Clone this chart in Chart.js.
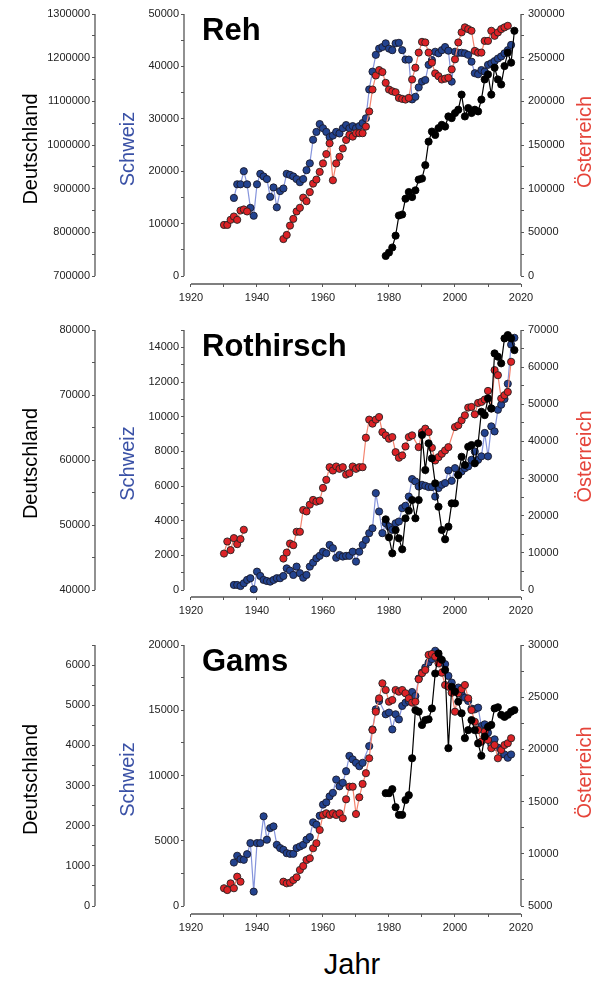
<!DOCTYPE html>
<html>
<head>
<meta charset="utf-8">
<script src="https://cdn.jsdelivr.net/npm/chart.js@4.4.1/dist/chart.umd.min.js"></script>
<style>
  body { margin: 0; background: #fff; width: 597px; height: 984px; position: relative; overflow: hidden; font-family: "Liberation Sans", Arial, sans-serif; }
  .panel { position: absolute; left: 0; width: 597px; }
  #jahr { position: absolute; left: 0; width: 704px; top: 948px; text-align: center; font-size: 29px; color: #000; }
</style>
</head>
<body>
<div class="panel" style="top:0"><canvas id="c1" width="597" height="310"></canvas></div>
<div class="panel" style="top:316px"><canvas id="c2" width="597" height="307"></canvas></div>
<div class="panel" style="top:631px"><canvas id="c3" width="597" height="309"></canvas></div>
<div id="jahr">Jahr</div>
<script>
// ---- data: [year, value] ----
const yearTicks = [1920, 1940, 1960, 1980, 2000, 2020];

// Reh
const rehDETicks = [700000, 800000, 900000, 1000000, 1100000, 1200000, 1300000];
const rehCHTicks = [0, 10000, 20000, 30000, 40000, 50000];
const rehATTicks = [0, 50000, 100000, 150000, 200000, 250000, 300000];
const rehCH = [[1933,14900],[1934,17500],[1935,17500],[1936,20000],[1937,17500],[1938,13000],[1939,11500],[1940,17500],[1941,19500],[1942,19000],[1943,18500],[1944,15100],[1945,16900],[1946,13100],[1947,16200],[1948,16700],[1949,19500],[1950,19300],[1951,19000],[1952,18500],[1953,17900],[1954,18500],[1955,20200],[1956,21500],[1957,26000],[1958,27500],[1959,29000],[1960,28200],[1961,27500],[1962,26500],[1963,26800],[1964,27500],[1965,27200],[1966,28200],[1967,28800],[1968,28200],[1969,28600],[1970,28200],[1971,28600],[1972,29200],[1973,30100],[1974,35600],[1975,39000],[1976,42200],[1977,43400],[1978,43700],[1979,44400],[1980,43400],[1981,43100],[1982,44400],[1983,44500],[1984,43100],[1985,41300],[1986,41300],[1987,33700],[1988,34200],[1989,36000],[1990,37100],[1991,37400],[1992,40300],[1993,41200],[1994,42800],[1995,42500],[1996,43100],[1997,43700],[1998,43000],[1999,37100],[2000,42800],[2001,42600],[2002,42600],[2003,42500],[2004,42200],[2005,40900],[2006,38700],[2007,38500],[2008,39300],[2009,39000],[2010,40300],[2011,40600],[2012,41000],[2013,41500],[2014,41900],[2015,42500],[2016,43100],[2017,44100]];
const rehAT = [[1930,58500],[1931,58500],[1932,64300],[1933,68100],[1934,64300],[1935,75000],[1936,76200],[1937,73900],[1942,null],[1948,42300],[1949,47000],[1950,57700],[1951,65400],[1952,73900],[1953,78100],[1954,89700],[1955,85700],[1956,96100],[1957,105800],[1958,110400],[1959,119200],[1960,128900],[1961,139600],[1962,152000],[1963,109600],[1964,128900],[1965,136500],[1966,146000],[1967,155800],[1968,161600],[1969,159600],[1970,163500],[1971,163500],[1972,163500],[1973,171100],[1974,188400],[1975,213500],[1976,229600],[1977,235800],[1978,233500],[1979,221200],[1980,213500],[1981,211500],[1982,210400],[1983,203900],[1984,202800],[1985,202000],[1986,203900],[1987,225000],[1988,238500],[1989,255800],[1990,268100],[1991,267400],[1992,255800],[1993,244300],[1994,232000],[1995,228800],[1996,225000],[1997,226000],[1998,227000],[1999,236600],[2000,248100],[2001,267400],[2002,279000],[2003,284700],[2004,282700],[2005,280800],[2006,257700],[2007,255800],[2008,255800],[2009,269200],[2010,269200],[2011,280800],[2012,275000],[2013,278900],[2014,282700],[2015,284700],[2016,286500]];
const rehDE = [[1979,746000],[1980,753800],[1981,765300],[1982,792300],[1983,838500],[1984,840800],[1985,877000],[1986,892300],[1987,880700],[1988,896200],[1989,920900],[1990,923200],[1991,953900],[1992,1007700],[1993,1030800],[1994,1023100],[1995,1038600],[1996,1046200],[1997,1042300],[1998,1065400],[1999,1061600],[2000,1073200],[2001,1080800],[2002,1115400],[2003,1065400],[2004,1084700],[2005,1073200],[2006,1080800],[2007,1076900],[2008,1103900],[2009,1150100],[2010,1161600],[2011,1115400],[2012,1177100],[2013,1150100],[2014,1138600],[2015,1180800],[2016,1211600],[2017,1188500],[2018,1261600]];

// Rothirsch
const rotDETicks = [40000, 50000, 60000, 70000, 80000];
const rotCHTicks = [0, 2000, 4000, 6000, 8000, 10000, 12000, 14000];
const rotATTicks = [0, 10000, 20000, 30000, 40000, 50000, 60000, 70000];
const rotCH = [[1933,290],[1934,290],[1935,230],[1936,390],[1937,580],[1938,680],[1939,40],[1940,1060],[1941,810],[1942,580],[1943,520],[1944,480],[1945,580],[1946,680],[1947,680],[1948,810],[1949,1250],[1950,1120],[1951,870],[1952,1350],[1953,970],[1954,710],[1955,870],[1956,1350],[1957,1580],[1958,1830],[1959,1970],[1960,2210],[1961,2120],[1962,2600],[1963,2410],[1964,1860],[1965,2020],[1966,1930],[1967,1970],[1968,1970],[1969,2210],[1970,1640],[1971,2210],[1972,2600],[1973,2890],[1974,3280],[1975,3560],[1976,5590],[1977,4530],[1978,3280],[1979,3850],[1980,3660],[1981,3470],[1982,3850],[1983,3950],[1984,4720],[1985,4860],[1986,5390],[1987,6400],[1988,6260],[1989,5970],[1990,6070],[1991,6010],[1992,5940],[1993,5940],[1994,5390],[1995,5880],[1996,6070],[1997,6170],[1998,6900],[1999,6300],[2000,7030],[2001,6650],[2002,6840],[2003,7030],[2004,7130],[2005,7510],[2006,7990],[2007,7510],[2008,7710],[2009,9060],[2010,7710],[2011,9440],[2012,9150],[2013,10400],[2014,10690],[2015,11020],[2016,11900],[2017,14160],[2018,14550]];
const rotAT = [[1930,9810],[1931,13060],[1932,10730],[1933,13970],[1934,12350],[1935,13700],[1936,16220],[1942,null],[1948,8460],[1949,10080],[1950,12510],[1951,12080],[1952,15680],[1953,15680],[1954,21540],[1955,21160],[1956,22980],[1957,24250],[1958,23790],[1959,24060],[1960,27490],[1961,29650],[1962,33060],[1963,32170],[1964,33250],[1965,32620],[1966,33060],[1967,31080],[1968,31440],[1969,33250],[1970,32620],[1971,33060],[1972,33060],[1973,41000],[1974,45870],[1975,44790],[1976,45870],[1977,46570],[1978,42520],[1979,41630],[1980,40730],[1981,41170],[1982,37110],[1983,35600],[1984,36220],[1985,38650],[1986,41170],[1987,41630],[1989,38460],[1990,42520],[1991,43440],[1992,42520],[1993,38300],[1994,34870],[1995,35760],[1996,36680],[1997,37570],[1998,38460],[2000,43870],[2001,44330],[2002,45680],[2003,47030],[2004,49110],[2005,49280],[2006,47300],[2007,50360],[2008,50630],[2009,51280],[2010,53600],[2011,48840],[2012,59200],[2013,57840],[2014,51550],[2015,52440],[2016,53330],[2017,61440]];
const rotDE = [[1979,50870],[1980,48100],[1981,45640],[1982,49230],[1983,47950],[1984,46260],[1985,51030],[1986,52200],[1987,53840],[1988,51030],[1989,53840],[1990,63840],[1991,58460],[1992,62560],[1993,60250],[1994,56410],[1995,52810],[1996,49230],[1997,47800],[1998,49740],[1999,53330],[2000,53330],[2001,57690],[2002,60500],[2003,59230],[2004,62040],[2005,62300],[2006,59490],[2007,62560],[2008,67420],[2009,66910],[2010,69480],[2011,67940],[2012,76400],[2013,75890],[2014,74870],[2015,78710],[2016,79220],[2017,78710],[2018,76910]];

// Gams
const gamsDETicks = [0, 1000, 2000, 3000, 4000, 5000, 6000];
const gamsCHTicks = [0, 5000, 10000, 15000, 20000];
const gamsATTicks = [5000, 10000, 15000, 20000, 25000, 30000];
const gamsCH = [[1933,3330],[1934,3850],[1935,3590],[1936,3540],[1937,3970],[1938,4820],[1939,1100],[1940,4820],[1941,4820],[1942,6870],[1943,5080],[1944,5970],[1945,6100],[1946,4690],[1947,4440],[1948,4310],[1949,4050],[1950,4000],[1951,4000],[1952,4440],[1953,4560],[1954,4690],[1955,5080],[1956,5280],[1957,6410],[1958,6230],[1959,6920],[1960,7770],[1961,7940],[1962,8400],[1963,8670],[1964,9690],[1965,9170],[1966,9440],[1967,10330],[1968,11500],[1969,11230],[1970,10970],[1971,10710],[1972,10970],[1974,12250],[1975,13530],[1976,15070],[1977,15710],[1979,14690],[1980,14820],[1981,13530],[1982,14690],[1983,14300],[1984,15330],[1985,15580],[1986,15710],[1987,16400],[1988,16090],[1989,17430],[1990,17890],[1991,18280],[1992,18660],[1993,18920],[1994,19560],[1995,19170],[1996,18660],[1997,18530],[1998,17630],[1999,17120],[2000,16480],[2001,16740],[2002,16230],[2003,15970],[2004,15710],[2005,15130],[2006,15070],[2007,15200],[2008,13790],[2009,13920],[2010,13280],[2011,12380],[2012,12770],[2013,12130],[2014,11610],[2015,11610],[2016,11360],[2017,11610]];
const gamsAT = [[1930,6700],[1931,6530],[1932,7170],[1933,6700],[1934,7810],[1935,7330],[1942,null],[1948,7330],[1949,7170],[1950,7230],[1951,7490],[1952,7750],[1953,8450],[1954,8830],[1955,9410],[1956,9570],[1957,10530],[1958,11010],[1959,12280],[1960,13720],[1961,13880],[1962,13720],[1963,13880],[1964,13720],[1965,13880],[1966,13400],[1967,15220],[1968,16430],[1969,16430],[1970,13810],[1971,15410],[1972,16690],[1973,17720],[1974,19150],[1975,21860],[1976,23610],[1977,24890],[1978,26330],[1979,25690],[1980,24570],[1981,24730],[1982,25690],[1983,25530],[1984,25690],[1985,25380],[1986,24890],[1987,24480],[1988,24570],[1989,26720],[1990,27290],[1991,27610],[1992,29050],[1993,29140],[1994,28880],[1995,28240],[1996,27350],[1997,26170],[1998,26010],[1999,25430],[2000,23610],[2001,25380],[2002,25760],[2003,26170],[2004,24890],[2005,23770],[2006,22650],[2007,21860],[2008,20740],[2009,21700],[2010,20900],[2011,20110],[2012,20420],[2013,19150],[2014,19940],[2015,20420],[2016,20590],[2017,21070]];
const gamsDE = [[1979,2810],[1980,2810],[1981,2910],[1982,2460],[1983,2270],[1984,2270],[1985,2640],[1986,2760],[1987,3680],[1988,4880],[1989,4840],[1990,4510],[1991,4630],[1992,4650],[1993,4920],[1994,5790],[1995,6290],[1996,6130],[1997,5880],[1998,3930],[1999,5460],[2000,5340],[2001,5090],[2002,4800],[2003,4180],[2004,4380],[2005,4630],[2006,4380],[2007,4050],[2008,3740],[2009,4220],[2010,4460],[2011,4510],[2012,4920],[2013,4950],[2014,4760],[2015,4710],[2016,4760],[2017,4840],[2018,4880]];

// ---- styling ----
const FONT = '"Liberation Sans", Arial, sans-serif';
const BLUE = '#23438f', BLUE_LINE = '#8594dc', BLUE_TEXT = '#3a51a6';
const RED = '#dc2226', RED_LINE = '#f4836e', RED_TEXT = '#e5443a';
const AXIS = '#555';

function tickValues(lo, hi, step) {
  const out = [];
  for (let v = lo; v <= hi + 1e-6; v += step) out.push(v);
  return out;
}

// y axis; gap/span are pixel sizes used so that the lowest tick sits above the x axis line
function yScale(o) {
  return {
    type: 'linear', position: o.pos, weight: o.weight || 0,
    min: o.lo - (o.hi - o.lo) * o.gap / o.span, max: o.hi,
    afterBuildTicks: s => { s.ticks = tickValues(o.lo, o.hi, o.minor).map(v => ({ value: v })); },
    afterFit: s => { s.width = o.width; },
    ticks: {
      autoSkip: false, padding: o.pos === 'left' ? 2 : 4, color: '#222',
      font: { family: FONT, size: 11 },
      callback: v => o.labels.includes(v) ? String(v) : ''
    },
    grid: { drawOnChartArea: false, tickLength: 3, color: AXIS },
    border: { display: false },
    title: o.title
      ? { display: true, text: o.title, color: o.titleColor, font: { family: FONT, size: 20 }, padding: { top: o.titlePad, bottom: 0 } }
      : { display: false }
  };
}

function series(data, axis, fill, line, edge) {
  return {
    data: data.map(([x, y]) => ({ x, y })),
    yAxisID: axis,
    borderColor: line, borderWidth: 1.2,
    pointBackgroundColor: fill, pointBorderColor: edge, pointBorderWidth: 0.9,
    pointRadius: 3.6, pointHoverRadius: 3.6,
    tension: 0, spanGaps: false
  };
}

// axis lines (detached from the plot corner), panel title, right axis title
const panelDecor = {
  id: 'panelDecor',
  beforeDatasetsDraw(chart, args, opts) {
    const ctx = chart.ctx;
    ctx.save();
    ctx.strokeStyle = AXIS;
    ctx.lineWidth = 1.3;
    Object.values(chart.scales).forEach(s => {
      const t = s.ticks;
      if (!t.length) return;
      const a = s.getPixelForValue(t[0].value);
      const b = s.getPixelForValue(t[t.length - 1].value);
      ctx.beginPath();
      if (s.axis === 'x') {
        ctx.moveTo(a, s.top); ctx.lineTo(b, s.top);
      } else {
        const x = s.position === 'left' ? s.right : s.left;
        ctx.moveTo(x, a); ctx.lineTo(x, b);
      }
      ctx.stroke();
    });
    ctx.restore();
  },
  afterDraw(chart, args, opts) {
    const ctx = chart.ctx;
    const area = chart.chartArea;
    ctx.save();
    ctx.fillStyle = '#000';
    ctx.font = 'bold 31px ' + FONT;
    ctx.textAlign = 'left';
    ctx.textBaseline = 'alphabetic';
    ctx.fillText(opts.title, 202, 40);
    ctx.translate(585, (area.top + area.bottom) / 2 - 7);
    ctx.rotate(-Math.PI / 2);
    ctx.fillStyle = RED_TEXT;
    ctx.font = '20px ' + FONT;
    ctx.textAlign = 'center';
    ctx.textBaseline = 'middle';
    ctx.fillText(opts.right, 0, 0);
    ctx.restore();
  }
};

function makePanel(id, title, de, ch, at, axes) {
  const xMin = 2020 - 337 / 3.3;
  new Chart(document.getElementById(id), {
    type: 'line',
    data: {
      datasets: [
        series(de, 'yDE', '#000', '#000', '#000'),
        series(at, 'yAT', RED, RED_LINE, '#222'),
        series(ch, 'yCH', BLUE, BLUE_LINE, '#1a1a2a')
      ]
    },
    options: {
      responsive: false, animation: false,
      layout: { padding: { top: 14, left: 0, right: 0, bottom: 0 } },
      plugins: { legend: { display: false }, tooltip: { enabled: false }, panelDecor: { title, right: 'Österreich' } },
      scales: {
        x: {
          type: 'linear', min: xMin, max: 2020,
          afterBuildTicks: s => { s.ticks = tickValues(1920, 2020, 10).map(v => ({ value: v })); },
          afterFit: s => { s.height = 26; },
          ticks: { autoSkip: false, maxRotation: 0, padding: 4, color: '#222', font: { family: FONT, size: 11 },
            callback: v => yearTicks.includes(v) ? String(v) : '' },
          grid: { drawOnChartArea: false, tickLength: 3, color: AXIS },
          border: { display: false }
        },
        yDE: yScale(axes.de),
        yCH: yScale(axes.ch),
        yAT: yScale(axes.at)
      }
    },
    plugins: [panelDecor]
  });
}

makePanel('c1', 'Reh', rehDE, rehCH, rehAT, {
  de: { pos: 'left', weight: 1, width: 95, lo: 700000, hi: 1300000, minor: 50000, labels: rehDETicks, gap: 8, span: 262, title: 'Deutschland', titleColor: '#000', titlePad: 19 },
  ch: { pos: 'left', weight: 0, width: 89, lo: 0, hi: 50000, minor: 5000, labels: rehCHTicks, gap: 8, span: 262, title: 'Schweiz', titleColor: BLUE_TEXT, titlePad: 21 },
  at: { pos: 'right', width: 76, lo: 0, hi: 300000, minor: 25000, labels: rehATTicks, gap: 8, span: 262 }
});

makePanel('c2', 'Rothirsch', rotDE, rotCH, rotAT, {
  de: { pos: 'left', weight: 1, width: 95, lo: 40000, hi: 80000, minor: 5000, labels: rotDETicks, gap: 7, span: 260, title: 'Deutschland', titleColor: '#000', titlePad: 19 },
  ch: { pos: 'left', weight: 0, width: 89, lo: 0, hi: 15000, minor: 1000, labels: rotCHTicks, gap: 7, span: 260, title: 'Schweiz', titleColor: BLUE_TEXT, titlePad: 21 },
  at: { pos: 'right', width: 76, lo: 0, hi: 70000, minor: 5000, labels: rotATTicks, gap: 7, span: 260 }
});

makePanel('c3', 'Gams', gamsDE, gamsCH, gamsAT, {
  de: { pos: 'left', weight: 1, width: 95, lo: 0, hi: 6500, minor: 500, labels: gamsDETicks, gap: 8, span: 261, title: 'Deutschland', titleColor: '#000', titlePad: 19 },
  ch: { pos: 'left', weight: 0, width: 89, lo: 0, hi: 20000, minor: 2500, labels: gamsCHTicks, gap: 8, span: 261, title: 'Schweiz', titleColor: BLUE_TEXT, titlePad: 21 },
  at: { pos: 'right', width: 76, lo: 5000, hi: 30000, minor: 2500, labels: gamsATTicks, gap: 8, span: 261 }
});
</script>
</body>
</html>
